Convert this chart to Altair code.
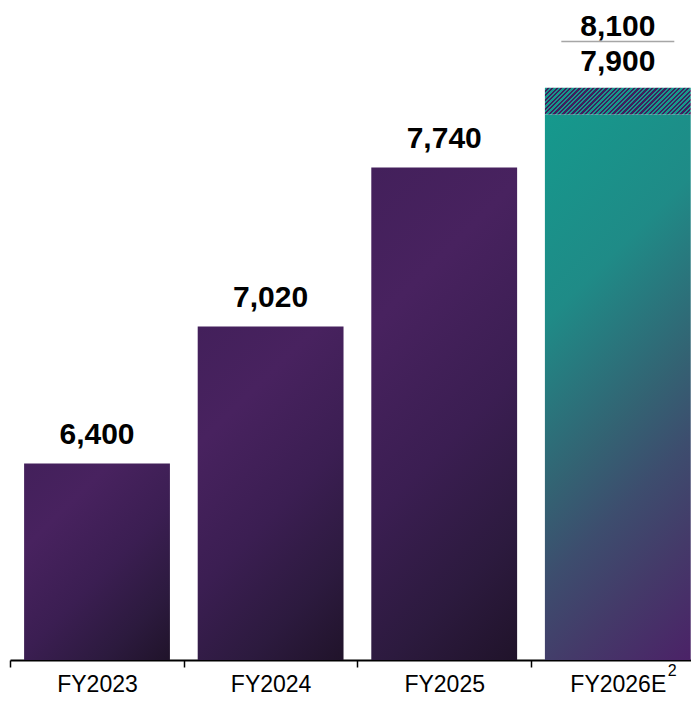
import altair as alt
import pandas as pd

# ---- data ----
categories = ["FY2023", "FY2024", "FY2025", "FY2026E"]
bar_values = [6400, 7020, 7740, 7980]          # top of the solid bar
bar_labels = ["6,400", "7,020", "7,740", ""]
estimate_low = 7980                             # bottom of hatched range band (as drawn)
estimate_high = 8100                            # top of hatched range band
estimate_high_label = "8,100"
estimate_low_label = "7,900"
footnote_mark = "2"

FONT = "Liberation Sans"
W, H = 681, 652
PX_PER_UNIT = 0.2209
Y_MIN = 5510
Y_MAX = Y_MIN + H / PX_PER_UNIT
STEP = 173.6
PAD_IN = 0.16
PAD_OUT = (W / STEP - (len(categories) - PAD_IN)) / 2
ALIGN = min(1.0, 14.1 / (2 * PAD_OUT * STEP))

df = pd.DataFrame({"cat": categories, "value": bar_values, "label": bar_labels})
range_df = pd.DataFrame({"cat": ["FY2026E"], "low": [estimate_low], "high": [estimate_high],
                         "hi_label": [estimate_high_label], "lo_label": [estimate_low_label],
                         "note": [footnote_mark]})

bandwidth = STEP * (1 - PAD_IN)

x_sort = alt.X("cat:N", sort=categories)
x_enc = alt.X("cat:N", sort=categories, title=None,
              scale=alt.Scale(paddingInner=PAD_IN, paddingOuter=PAD_OUT, align=ALIGN),
              axis=alt.Axis(labelAngle=0, labelFontSize=23, labelFont=FONT, labelColor="#000000",
                            labelBaseline="alphabetic",
                            domainColor="#000000", domainWidth=2, tickColor="#000000",
                            tickWidth=1.5, tickSize=7, tickOffset=-STEP / 2, labelOffset=STEP / 2,
                            labelPadding=24))
y_scale = alt.Scale(domain=[Y_MIN, Y_MAX], zero=False, nice=False)


def diag_gradient(height_px, stops):
    # 45-degree (pixel space) gradient from top-left to bottom-right of a bar
    k = height_px / bandwidth
    a = (1 + k) / (1 + k * k)
    return alt.Gradient(gradient="linear", x1=0, y1=0, x2=a, y2=a * k,
                        stops=[alt.GradientStop(color=c, offset=o) for o, c in stops])


purple_stops = [(0, "#43205b"), (0.25, "#48225f"), (0.55, "#3b1e52"), (0.8, "#2c1a3e"), (1, "#20132a")]
teal_stops = [(0, "#15998d"), (0.3, "#1f8b87"), (0.55, "#336373"), (0.68, "#3d4d6e"),
              (0.82, "#443a69"), (1, "#4b2267")]

layers = []
for i, (c, v) in enumerate(zip(categories, bar_values)):
    h = (v - Y_MIN) * PX_PER_UNIT
    stops = teal_stops if c == "FY2026E" else purple_stops
    layers.append(
        alt.Chart(df[df["cat"] == c]).mark_bar(color=diag_gradient(h, stops)).encode(
            x=x_enc if i == 0 else x_sort,
            y=alt.Y("value:Q", scale=y_scale, axis=None), y2=alt.datum(Y_MIN)))

# diagonal hatch built from hard gradient stops
hh = (estimate_high - estimate_low) * PX_PER_UNIT
k = hh / bandwidth
a = (1 + k) / (1 + k * k)
N = 38
hatch_stops = []
for i in range(N):
    hatch_stops += [alt.GradientStop(color="#17978c", offset=i / N),
                    alt.GradientStop(color="#17978c", offset=(i + 0.5) / N),
                    alt.GradientStop(color="#3f1f5d", offset=(i + 0.5) / N),
                    alt.GradientStop(color="#3f1f5d", offset=(i + 1) / N)]
hatch_grad = alt.Gradient(gradient="linear", x1=0, y1=0, x2=a, y2=a * k, stops=hatch_stops)

hatch = alt.Chart(range_df).mark_bar(color=hatch_grad).encode(
    x=x_sort, y=alt.Y("low:Q", scale=y_scale, axis=None), y2="high:Q")

labels = alt.Chart(df[df["label"] != ""]).mark_text(
    font=FONT, fontSize=30, fontWeight="bold", color="#000000", baseline="alphabetic", dy=-19
).encode(x=x_sort, y=alt.Y("value:Q", scale=y_scale), text="label:N")

hi_lab = alt.Chart(range_df).mark_text(
    font=FONT, fontSize=30, fontWeight="bold", color="#000000", baseline="alphabetic", dy=-52
).encode(x=x_sort, y=alt.Y("high:Q", scale=y_scale), text="hi_label:N")

lo_lab = alt.Chart(range_df).mark_text(
    font=FONT, fontSize=30, fontWeight="bold", color="#000000", baseline="alphabetic", dy=-17
).encode(x=x_sort, y=alt.Y("high:Q", scale=y_scale), text="lo_label:N")

sep = alt.Chart(range_df).mark_tick(
    orient="horizontal", size=113, thickness=1.5, color="#808080"
).encode(x=x_sort, y=alt.value(33.5))

note = alt.Chart(range_df).mark_text(
    font=FONT, fontSize=16, color="#000000", align="left", baseline="alphabetic", dx=50
).encode(x=x_sort, y=alt.value(668), text="note:N")

chart = alt.layer(*layers, hatch, labels, hi_lab, lo_lab, sep, note).properties(
    width=W, height=H,
    autosize=alt.AutoSizeParams(type="none"),
    padding={"left": 2, "top": 0, "right": 0, "bottom": 35},
    background="white",
).configure_view(stroke=None)

chart.save("out.html", embed_options={"renderer": "svg", "actions": False})
